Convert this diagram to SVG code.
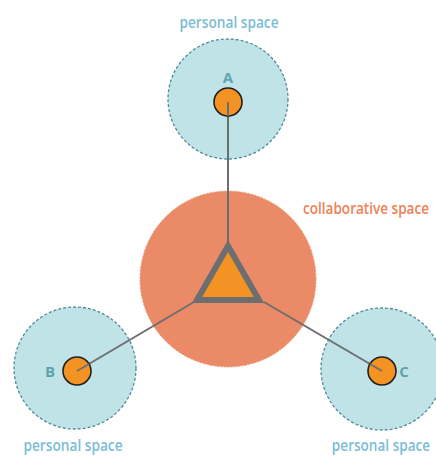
<svg xmlns="http://www.w3.org/2000/svg" width="436" height="456" viewBox="0 0 436 456">
<style>
.ps{fill:#bfe3e6;stroke:#4f8a9c;stroke-width:1.3;stroke-dasharray:3 2}
.me{fill:#f39323;stroke:#231f20;stroke-width:1.6}
.lbl{font-family:"Open Sans","Noto Sans",sans-serif;font-size:16px;font-weight:600;fill:#7bbdd4}
.let{font-family:"Open Sans","Noto Sans",sans-serif;font-size:15px;font-weight:bold;fill:#5fa3ae}
.con{stroke:#6d6e70;stroke-width:2;fill:none}
</style>
<rect width="436" height="456" fill="#ffffff"/>
<g id="collab">
<circle cx="228" cy="279" r="88" fill="#ea8a66" stroke="#ee9a7a" stroke-width="1" stroke-dasharray="2 1.5"/>
<text transform="translate(366,214) scale(0.84,1)" x="0" y="0" text-anchor="middle" font-family="'Open Sans','Noto Sans',sans-serif" font-size="16" font-weight="600" fill="#f07f55" textLength="150" lengthAdjust="spacingAndGlyphs">collaborative space</text>
</g>
<g id="spaceA">
<circle class="ps" cx="228" cy="99" r="60"/>
<text class="lbl" transform="translate(229,28) scale(0.84,1)" text-anchor="middle" textLength="118" lengthAdjust="spacingAndGlyphs">personal space</text>
</g>
<g id="spaceB">
<circle class="ps" cx="75" cy="368" r="61"/>
<text class="lbl" transform="translate(73,451) scale(0.84,1)" text-anchor="middle" textLength="118" lengthAdjust="spacingAndGlyphs">personal space</text>
</g>
<g id="spaceC">
<circle class="ps" cx="382" cy="369" r="61"/>
<text class="lbl" transform="translate(381,451) scale(0.84,1)" text-anchor="middle" textLength="117" lengthAdjust="spacingAndGlyphs">personal space</text>
</g>
<g id="connectors">
<line class="con" x1="228" y1="102" x2="228" y2="243"/>
<line class="con" x1="77" y1="371" x2="194" y2="302"/>
<line class="con" x1="382" y1="371" x2="264" y2="302"/>
</g>
<g id="triangle">
<polygon points="228,246 197,300 259,300" fill="#f39323" stroke="#6d6e70" stroke-width="6" stroke-linejoin="miter"/>
</g>
<g id="nodeA">
<circle class="me" cx="228" cy="102" r="14"/>
<line class="con" x1="228" y1="102" x2="228" y2="116"/>
<text class="let" x="228" y="83" text-anchor="middle">A</text>
</g>
<g id="nodeB">
<circle class="me" cx="77" cy="371" r="14"/>
<line class="con" x1="77" y1="371" x2="89" y2="364"/>
<text class="let" x="50" y="377" text-anchor="middle">B</text>
</g>
<g id="nodeC">
<circle class="me" cx="382" cy="371" r="14"/>
<line class="con" x1="382" y1="371" x2="370" y2="364"/>
<text class="let" x="404" y="377" text-anchor="middle">C</text>
</g>
</svg>
